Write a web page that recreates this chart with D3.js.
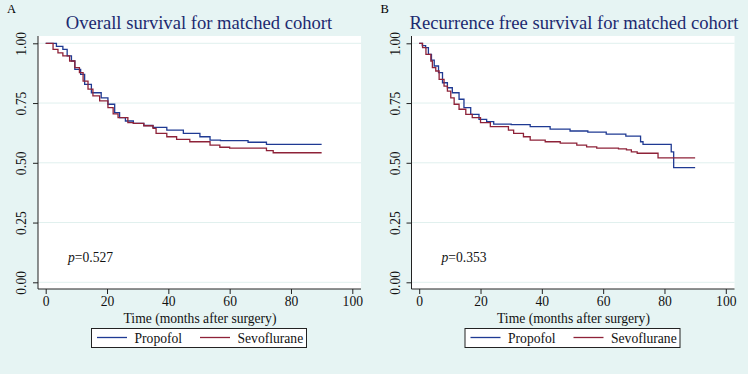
<!DOCTYPE html>
<html>
<head>
<meta charset="utf-8">
<script src="https://cdn.jsdelivr.net/npm/d3@7"></script>
<style>
  body { margin: 0; background: #e6f4f3; }
  svg { display: block; font-family: "Liberation Serif", "Times New Roman", serif; }
  .tick-label { font-size: 13.6px; fill: #111; font-family: "Liberation Serif", serif; }
  .title { font-size: 18.6px; fill: #1c2a70; }
</style>
</head>
<body>
<div id="wrapper"></div>
<script>
// data: [months, survival]
const xTicks = [0, 20, 40, 60, 80, 100]
const yTicks = [0, 0.25, 0.5, 0.75, 1]
const seriesNames = ["Propofol", "Sevoflurane"]
const seriesColors = ["#1f3a93", "#8e2238"]

const propofolOS = [[0,1],[3.5,0.987],[5.6,0.975],[7,0.947],[8.4,0.926],[9.5,0.891],[11.4,0.870],[12.7,0.828],[14.9,0.793],
  [18.1,0.772],[20.3,0.745],[22.5,0.710],[24.1,0.689],[26,0.675],[28.6,0.665],[32,0.656],[35,0.648],[39.5,0.637],
  [44.9,0.623],[50.3,0.609],[53.6,0.595],[57,0.593],[66,0.586],[72,0.577],[90,0.577]]
const sevoOS = [[0,1],[2.4,0.975],[4,0.96],[5.6,0.947],[7.8,0.926],[9.5,0.898],[11,0.877],[12.2,0.842],[13.8,0.808],
  [15.4,0.78],[17.6,0.759],[20.3,0.731],[22,0.705],[23.6,0.689],[26.8,0.668],[28.6,0.665],[32,0.655],[35,0.644],
  [36,0.623],[39.5,0.609],[42.7,0.598],[47,0.588],[53.6,0.574],[56.8,0.565],[60,0.561],[72,0.551],[74.2,0.542],[90,0.542]]
const propofolRFS = [[0,1],[1,0.99],[2.1,0.982],[3,0.954],[4,0.93],[4.9,0.905],[6.3,0.877],[7.6,0.835],[9.2,0.814],
  [10.8,0.793],[13,0.766],[14.6,0.731],[16.8,0.703],[19.5,0.682],[22,0.672],[24.3,0.662],[30,0.66],[36.2,0.651],
  [42.7,0.641],[49.2,0.633],[55,0.628],[61,0.620],[67.4,0.612],[72.2,0.588],[73,0.577],[82.2,0.546],[83,0.480],[90,0.480]]
const sevoRFS = [[0,1],[1.1,0.982],[2.2,0.954],[3.8,0.926],[4.3,0.898],[5.4,0.884],[6.5,0.849],[8.1,0.821],[9.2,0.8],
  [10.3,0.772],[11.4,0.745],[13,0.724],[15.2,0.703],[17.3,0.689],[20,0.668],[23.2,0.651],[29.1,0.637],[30.8,0.623],
  [34,0.609],[36.2,0.595],[41.1,0.588],[46,0.582],[51.4,0.574],[54.6,0.567],[57.9,0.561],[65,0.558],[67.6,0.554],
  [69.2,0.546],[71.1,0.540],[77.9,0.521],[90,0.521]]

const panels = [
  { letter: "A", title: "Overall survival for matched cohort", pValue: "0.527", series: [propofolOS, sevoOS] },
  { letter: "B", title: "Recurrence free survival for matched cohort", pValue: "0.353", series: [propofolRFS, sevoRFS] },
]

const width = 748
const height = 374

const svg = d3.select("#wrapper")
  .append("svg")
    .attr("width", width)
    .attr("height", height)

svg.append("rect")
    .attr("width", width)
    .attr("height", height)
    .attr("fill", "#e6f4f3")

const plot = { left: 38, right: 361, top: 36, bottom: 289 }

panels.forEach((panel, pi) => {
  const g = svg.append("g")
      .attr("transform", `translate(${pi * 373.5}, 0)`)

  const xScale = d3.scaleLinear().domain([0, 100]).range([45.7, 352.3])
  const yScale = d3.scaleLinear().domain([0, 1]).range([282.3, 43.3])

  g.append("text")
      .attr("x", 7)
      .attr("y", 13)
      .attr("font-size", 12.5)
      .text(panel.letter)

  g.append("text")
      .attr("class", "title")
      .attr("x", pi ? 200.5 : 199)
      .attr("y", 28.5)
      .attr("text-anchor", "middle")
      .text(panel.title)

  // plot region
  g.append("rect")
      .attr("x", plot.left)
      .attr("y", plot.top)
      .attr("width", plot.right - plot.left)
      .attr("height", plot.bottom - plot.top)
      .attr("fill", "#fff")

  g.selectAll(".grid")
      .data(yTicks)
    .enter().append("line")
      .attr("x1", plot.left)
      .attr("x2", plot.right)
      .attr("y1", yScale)
      .attr("y2", yScale)
      .attr("stroke", "#e0f0ee")
      .attr("stroke-width", 1)

  // axes
  const yAxis = g.append("g")
      .attr("transform", `translate(${plot.left}, 0)`)
      .call(d3.axisLeft(yScale).tickValues(yTicks).tickFormat(d3.format(".2f")).tickSize(5).tickSizeOuter(0))
      .attr("font-family", null)
      .attr("font-size", null)
  yAxis.select(".domain").attr("d", `M0,${plot.top}V${plot.bottom}`).attr("stroke", "#222")
  yAxis.selectAll(".tick line").attr("stroke", "#222")
  yAxis.selectAll(".tick text")
      .attr("class", "tick-label")
      .attr("transform", "rotate(-90)")
      .attr("x", 0)
      .attr("y", -12)
      .attr("dy", "0")
      .attr("text-anchor", "middle")

  const xAxis = g.append("g")
      .attr("transform", `translate(0, ${plot.bottom})`)
      .call(d3.axisBottom(xScale).tickValues(xTicks).tickSize(5).tickSizeOuter(0))
      .attr("font-family", null)
      .attr("font-size", null)
  xAxis.select(".domain").attr("d", `M${plot.left},0H${plot.right}`).attr("stroke", "#222")
  xAxis.selectAll(".tick line").attr("stroke", "#222")
  xAxis.selectAll(".tick text")
      .attr("class", "tick-label")
      .attr("y", 7)

  g.append("text")
      .attr("class", "tick-label")
      .attr("x", 200)
      .attr("y", 322.5)
      .attr("text-anchor", "middle")
      .text("Time (months after surgery)")

  // p value
  const pText = g.append("text")
      .attr("class", "tick-label")
      .attr("x", 68)
      .attr("y", 261.5)
  pText.append("tspan").attr("font-style", "italic").text("p")
  pText.append("tspan").text("=" + panel.pValue)

  // survival curves
  const lineGenerator = d3.line()
    .x(d => xScale(d[0]))
    .y(d => yScale(d[1]))
    .curve(d3.curveStepAfter)

  panel.series.forEach((s, i) => {
    g.append("path")
        .attr("d", lineGenerator(s))
        .attr("fill", "none")
        .attr("stroke", seriesColors[i])
        .attr("stroke-width", 1.3)
  })

  // legend
  const legend = g.append("g")
  legend.append("rect")
      .attr("x", 91.5)
      .attr("y", 328.5)
      .attr("width", 215)
      .attr("height", 19)
      .attr("fill", "#fff")
      .attr("stroke", "#222")
  const legendX = [97, 200]
  seriesNames.forEach((name, i) => {
    legend.append("line")
        .attr("x1", legendX[i])
        .attr("x2", legendX[i] + 30)
        .attr("y1", 337.5)
        .attr("y2", 337.5)
        .attr("stroke", seriesColors[i])
        .attr("stroke-width", 1.3)
    legend.append("text")
        .attr("class", "tick-label")
        .attr("x", legendX[i] + 37.5)
        .attr("y", 342.5)
        .text(name)
  })
})
</script>
</body>
</html>
